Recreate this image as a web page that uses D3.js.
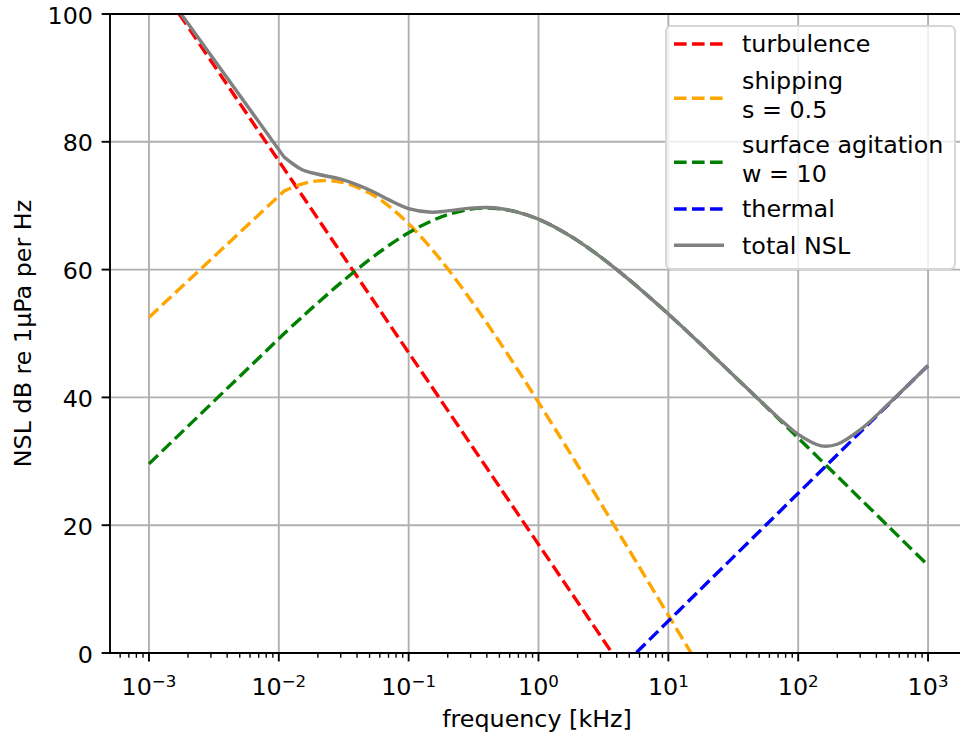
<!DOCTYPE html>
<html>
<head>
<meta charset="utf-8">
<script src="https://cdn.jsdelivr.net/npm/d3@7"></script>
<style>
  html, body { margin: 0; padding: 0; background: #fff; }
  svg text { font-family: "DejaVu Sans", sans-serif; fill: #000; }
</style>
</head>
<body>
<div id="chart"></div>
<script>
// frequency samples [kHz] and noise levels (dB re 1uPa per Hz)
const freqKHz = [0.001, 0.011, 0.015, 0.02, 0.03, 0.05, 0.07, 0.1, 0.15, 0.2, 0.3, 0.4, 0.5, 0.7,
  1, 1.5, 2, 3, 5, 7, 10, 15, 20, 30, 50, 70, 100, 150, 200, 300, 500, 700, 1000];
const turbulence = [107, 75.76, 71.72, 67.97, 62.69, 56.03, 51.65, 47, 41.72, 37.97, 32.69, 28.94, 26.03, 21.65,
  17, 11.72, 7.97, 2.69, -3.97, -8.35, -13, -18.28, -22.03, -27.31, -33.97, -38.35, -43, -48.28, -52.03, -57.31, -63.97, -68.35, -73];
const shipping = [52.52, 72.3, 73.39, 73.89, 73.71, 71.98, 69.97, 67.17, 63.26, 60.13, 55.29, 51.64, 48.71, 44.17,
  39.23, 33.5, 29.38, 23.51, 16.07, 11.15, 5.92, -0.04, -4.27, -10.25, -17.79, -22.75, -28.01, -33.99, -38.23, -44.23, -51.77, -56.74, -62];
const surface = [29.6, 50.0, 52.52, 54.81, 57.92, 61.57, 63.74, 65.76, 67.62, 68.61, 69.46, 69.64, 69.53, 68.96,
  67.88, 66.09, 64.53, 62.0, 58.4, 55.85, 53.04, 49.74, 47.36, 43.94, 39.6, 36.72, 33.65, 30.15, 27.67, 24.15, 19.73, 16.8, 13.71];
const thermal = [-75, -54.17, -51.48, -48.98, -45.46, -41.02, -38.1, -35, -31.48, -28.98, -25.46, -22.96, -21.02, -18.1,
  -15, -11.48, -8.98, -5.46, -1.02, 1.9, 5, 8.52, 11.02, 14.54, 18.98, 21.9, 25, 28.52, 31.02, 34.54, 38.98, 41.9, 45];
const totalNSL = [107, 77.6, 75.67, 74.92, 74.15, 72.46, 70.95, 69.56, 68.98, 69.19, 69.62, 69.71, 69.57, 68.97,
  67.89, 66.09, 64.53, 62.0, 58.4, 55.85, 53.04, 49.74, 47.36, 43.94, 39.64, 36.86, 34.21, 32.42, 32.67, 34.92, 39.03, 41.91, 45];

const xExponents = [-3, -2, -1, 0, 1, 2, 3];
const yTicks = [0, 20, 40, 60, 80, 100];

const series = [
  {name: ['turbulence'], values: turbulence, color: 'red', dashed: true},
  {name: ['shipping', 's = 0.5'], values: shipping, color: 'orange', dashed: true},
  {name: ['surface agitation', 'w = 10'], values: surface, color: 'green', dashed: true},
  {name: ['thermal'], values: thermal, color: 'blue', dashed: true},
  {name: ['total NSL'], values: totalNSL, color: 'gray', dashed: false}
];

const W = 960, H = 742;
const m = {left: 110, right: 967, top: 14, bottom: 653};
const fs = 23.8;         // base font size
const lw = 3.4;          // line width

let svg = d3.select('#chart').append('svg')
  .attr('width', W)
  .attr('height', H);

let x = d3.scaleLog().domain([Math.pow(10, -3.3), Math.pow(10, 3.3)]).range([m.left, m.right]);
let y = d3.scaleLinear().domain([0, 100]).range([m.bottom, m.top]);

svg.append('clipPath').attr('id', 'plotClip')
  .append('rect')
  .attr('x', m.left).attr('y', m.top)
  .attr('width', m.right - m.left).attr('height', m.bottom - m.top);

// grid
let grid = svg.append('g');
grid.selectAll('.vg').data(xExponents).enter().append('line')
  .attr('x1', d => x(Math.pow(10, d))).attr('x2', d => x(Math.pow(10, d)))
  .attr('y1', m.top).attr('y2', m.bottom)
  .attr('stroke', '#b0b0b0').attr('stroke-width', 1.9);
grid.selectAll('.hg').data(yTicks).enter().append('line')
  .attr('x1', m.left).attr('x2', m.right)
  .attr('y1', d => y(d)).attr('y2', d => y(d))
  .attr('stroke', '#b0b0b0').attr('stroke-width', 1.9);

// curves: first segment straight (coarse first sample), rest smooth
let smooth = d3.line().x(d => x(d[0])).y(d => y(d[1])).curve(d3.curveCatmullRom.alpha(0.5));
let pathFor = vals => {
  let pts = freqKHz.map((f, i) => [f, vals[i]]);
  let rest = smooth(pts.slice(1));
  return `M${x(pts[0][0])},${y(pts[0][1])}L` + rest.slice(1);
};

let plot = svg.append('g').attr('clip-path', 'url(#plotClip)');
series.forEach(s => {
  plot.append('path')
    .attr('d', pathFor(s.values))
    .attr('fill', 'none')
    .attr('stroke', s.color)
    .attr('stroke-width', lw)
    .attr('stroke-dasharray', s.dashed ? '12.6,5.4' : null);
});

// minor ticks on x
let minor = [];
for (let k = -4; k <= 3; k++) {
  for (let j = 2; j <= 9; j++) {
    let v = j * Math.pow(10, k);
    if (v > x.domain()[0] && v < x.domain()[1]) minor.push(v);
  }
}
svg.append('g').selectAll('line').data(minor).enter().append('line')
  .attr('x1', d => x(d)).attr('x2', d => x(d))
  .attr('y1', m.bottom).attr('y2', m.bottom + 4.8)
  .attr('stroke', '#000').attr('stroke-width', 1.4);

// major ticks x
svg.append('g').selectAll('line').data(xExponents).enter().append('line')
  .attr('x1', d => x(Math.pow(10, d))).attr('x2', d => x(Math.pow(10, d)))
  .attr('y1', m.bottom).attr('y2', m.bottom + 8.4)
  .attr('stroke', '#000').attr('stroke-width', 1.9);

let xl = svg.append('g').selectAll('text').data(xExponents).enter().append('text')
  .attr('x', d => x(Math.pow(10, d)))
  .attr('y', 695)
  .attr('text-anchor', 'middle')
  .style('font-size', fs + 'px');
xl.append('tspan').text('10');
xl.append('tspan')
  .attr('dy', -8.5)
  .style('font-size', (fs * 0.7) + 'px')
  .text(d => String(d).replace('-', '\u2212'));

// y ticks
svg.append('g').selectAll('line').data(yTicks).enter().append('line')
  .attr('x1', m.left - 8.4).attr('x2', m.left)
  .attr('y1', d => y(d)).attr('y2', d => y(d))
  .attr('stroke', '#000').attr('stroke-width', 1.9);
svg.append('g').selectAll('text').data(yTicks).enter().append('text')
  .attr('x', m.left - 17)
  .attr('y', d => y(d) + 9.5)
  .attr('text-anchor', 'end')
  .style('font-size', fs + 'px')
  .text(d => d);

// spines
let spine = svg.append('g').attr('stroke', '#000').attr('stroke-width', 1.9).attr('fill', 'none');
spine.append('line').attr('x1', m.left).attr('x2', m.left).attr('y1', m.top).attr('y2', m.bottom).attr('stroke-linecap', 'square');
spine.append('line').attr('x1', m.left).attr('x2', m.right).attr('y1', m.bottom).attr('y2', m.bottom).attr('stroke-linecap', 'square');
spine.append('line').attr('x1', m.left).attr('x2', m.right).attr('y1', m.top).attr('y2', m.top).attr('stroke-linecap', 'square');
spine.append('line').attr('x1', m.right).attr('x2', m.right).attr('y1', m.top).attr('y2', m.bottom);

// axis labels
svg.append('text')
  .attr('x', 537).attr('y', 727)
  .attr('text-anchor', 'middle')
  .style('font-size', fs + 'px')
  .text('frequency [kHz]');
svg.append('text')
  .attr('transform', 'translate(31,333.5) rotate(-90)')
  .attr('text-anchor', 'middle')
  .style('font-size', fs + 'px')
  .text('NSL dB re 1\u03bcPa per Hz');

// legend
let legend = svg.append('g');
legend.append('rect')
  .attr('x', 666).attr('y', 26)
  .attr('width', 289).attr('height', 243)
  .attr('rx', 5).attr('ry', 5)
  .attr('fill', '#fff').attr('fill-opacity', 0.8)
  .attr('stroke', '#d6d6d6').attr('stroke-width', 2);

const rowY = [44, 98.3, 162.3, 209, 245.3];
series.forEach((s, i) => {
  let cy = rowY[i];
  legend.append('line')
    .attr('x1', 674).attr('x2', 724)
    .attr('y1', cy).attr('y2', cy)
    .attr('stroke', s.color)
    .attr('stroke-width', lw)
    .attr('stroke-dasharray', s.dashed ? '12.6,5.4' : null);
  let n = s.name.length;
  s.name.forEach((t, j) => {
    legend.append('text')
      .attr('x', 742)
      .attr('y', n > 1 ? cy + (j - 0.5) * 28.4 + 5.2 : cy + 8.3)
      .style('font-size', fs + 'px')
      .text(t);
  });
});
</script>
</body>
</html>
